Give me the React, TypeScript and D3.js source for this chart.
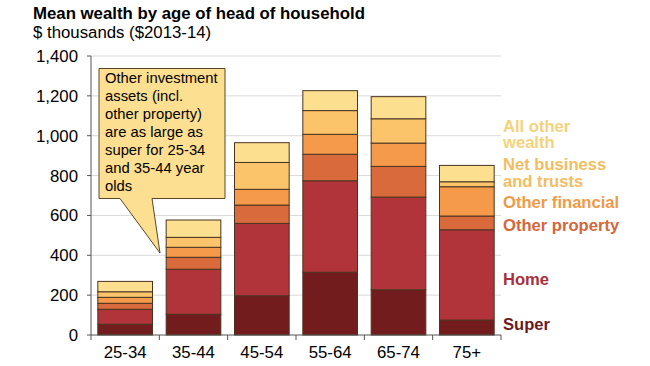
import React from "react";
import * as d3 from "d3";

const categories = ["25-34", "35-44", "45-54", "55-64", "65-74", "75+"];
const superVals = [54, 104, 197, 315, 227, 75];
const homeVals = [75, 226, 363, 459, 465, 453];
const otherPropertyVals = [30, 60, 92, 133, 154, 69];
const otherFinancialVals = [30, 50, 79, 100, 117, 147];
const netBusinessVals = [28, 50, 135, 119, 122, 25];
const allOtherVals = [52, 87, 99, 100, 111, 82];
const yTicks = [0, 200, 400, 600, 800, 1000, 1200, 1400];

const seriesKeys = ["super", "home", "otherProperty", "otherFinancial", "netBusiness", "allOther"];
const barColors = ["#731c1e", "#b1343b", "#d86a3b", "#f49a4a", "#fbc46b", "#fde08f"];

const legendItems = [
  { lines: ["All other", "wealth"], color: "#f5d27a", y: 131.5 },
  { lines: ["Net business", "and trusts"], color: "#f3bd5f", y: 170 },
  { lines: ["Other financial"], color: "#ee9a48", y: 207.5 },
  { lines: ["Other property"], color: "#d5673a", y: 231 },
  { lines: ["Home"], color: "#a8303a", y: 285 },
  { lines: ["Super"], color: "#6b1b1f", y: 330 },
];

const calloutLines = [
  "Other investment",
  "assets (incl.",
  "other property)",
  "are as large as",
  "super for 25-34",
  "and 35-44 year",
  "olds",
];

const FONT = "'Liberation Sans', Arial, Helvetica, sans-serif";

export default function App() {
  const width = 650;
  const height = 366;
  const x = d3.scaleBand<string>().domain(categories).range([91, 501]).paddingInner(0.2).paddingOuter(0.1);
  const xOuter = d3.scaleBand<string>().domain(categories).range([91, 501]).padding(0);
  const y = d3.scaleLinear().domain([0, 1400]).range([335, 56]);

  const table = categories.map((c, i) => ({
    cat: c,
    super: superVals[i],
    home: homeVals[i],
    otherProperty: otherPropertyVals[i],
    otherFinancial: otherFinancialVals[i],
    netBusiness: netBusinessVals[i],
    allOther: allOtherVals[i],
  }));
  const stacked = d3.stack<any>().keys(seriesKeys)(table);

  const calloutPath = "M99,68.5 H225 V198.5 H152 L160,253 L120,198.5 H99 Z";

  return (
    <svg
      width={width}
      height={height}
      style={{ position: "absolute", left: 0, top: 0, background: "#fff" }}
      fontFamily={FONT}
    >
      <rect x={0} y={0} width={width} height={height} fill="#fff" />
      <text x={33} y={19} fontSize={16.8} fontWeight="bold" fill="#000">
        Mean wealth by age of head of household
      </text>
      <text x={33} y={37.5} fontSize={16.8} fill="#000">
        $ thousands ($2013-14)
      </text>

      {/* gridlines */}
      {yTicks.filter((t) => t > 0).map((t) => (
        <line key={"g" + t} x1={91} x2={501} y1={y(t)} y2={y(t)} stroke="#d9d9d9" strokeWidth={1} />
      ))}

      {/* bars */}
      {stacked.map((s, si) => (
        <g key={seriesKeys[si]}>
          {s.map((d, i) => (
            <rect
              key={i}
              x={x(categories[i])!}
              y={y(d[1])}
              width={x.bandwidth()}
              height={y(d[0]) - y(d[1])}
              fill={barColors[si]}
              stroke="#4a3320"
              strokeWidth={1}
            />
          ))}
        </g>
      ))}

      {/* y axis */}
      <line x1={91} x2={91} y1={y(1400)} y2={y(0)} stroke="#555" strokeWidth={1} />
      {yTicks.map((t) => (
        <g key={"t" + t}>
          <line x1={87} x2={91} y1={y(t)} y2={y(t)} stroke="#555" strokeWidth={1} />
          <text x={78} y={y(t)} dy="0.36em" textAnchor="end" fontSize={16.8} fill="#000">
            {d3.format(",")(t)}
          </text>
        </g>
      ))}

      {/* x axis */}
      <line x1={91} x2={501} y1={y(0)} y2={y(0)} stroke="#555" strokeWidth={1} />
      {categories.map((c) => (
        <line
          key={"xt" + c}
          x1={xOuter(c)!}
          x2={xOuter(c)!}
          y1={y(0)}
          y2={y(0) + 5}
          stroke="#555"
          strokeWidth={1}
        />
      ))}
      <line x1={501} x2={501} y1={y(0)} y2={y(0) + 5} stroke="#555" strokeWidth={1} />
      {categories.map((c) => (
        <text
          key={"xl" + c}
          x={x(c)! + x.bandwidth() / 2}
          y={358}
          textAnchor="middle"
          fontSize={16.8}
          fill="#000"
        >
          {c}
        </text>
      ))}

      {/* callout */}
      <path d={calloutPath} fill="#fddf92" stroke="#5a4626" strokeWidth={1} />
      {calloutLines.map((l, i) => (
        <text key={"c" + i} x={105} y={83.3 + i * 17.9} fontSize={14.8} fill="#000">
          {l}
        </text>
      ))}

      {/* legend */}
      {legendItems.map((it, i) => (
        <text key={"l" + i} x={503} y={it.y} fontSize={16.6} fontWeight="bold" fill={it.color}>
          {it.lines.map((ln, j) => (
            <tspan key={j} x={503} dy={j === 0 ? 0 : 16.6}>
              {ln}
            </tspan>
          ))}
        </text>
      ))}
    </svg>
  );
}
